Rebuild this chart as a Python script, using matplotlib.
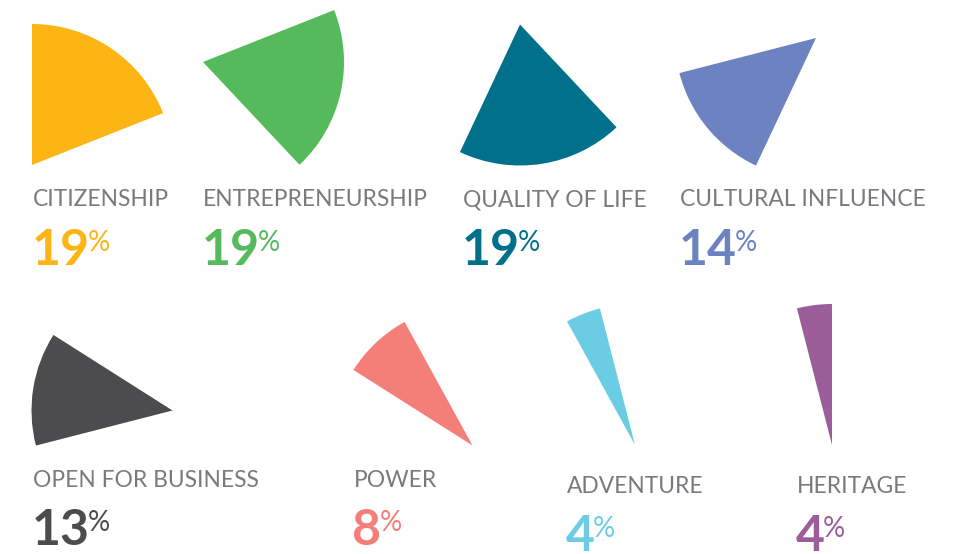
import matplotlib
matplotlib.use('Agg')
import matplotlib.pyplot as plt
from matplotlib.patches import Wedge

# data
categories = ['CITIZENSHIP', 'ENTREPRENEURSHIP', 'QUALITY OF LIFE', 'CULTURAL INFLUENCE',
              'OPEN FOR BUSINESS', 'POWER', 'ADVENTURE', 'HERITAGE']
shares = [19, 19, 19, 14, 13, 8, 4, 4]
colors = ['#FDB515', '#55BA5C', '#01708B', '#6C82C1',
          '#4C4C4E', '#F47E78', '#6BCDE4', '#9C5E9A']

# layout (pixel coords, y down)
centers = [(32, 165), (203, 62), (520, 24.5), (816, 38),
           (172.5, 410.5), (472.5, 445.5), (635, 445), (832, 445)]
radius = 141
text_x = [33, 203, 463, 680, 33, 354, 567, 797]
label_y = [206, 206, 206, 206, 487, 487, 493, 493]
pct_y = [265, 265, 265, 265, 545, 545, 551, 551]

fig = plt.figure(figsize=(9.67, 5.54), dpi=100)
ax = fig.add_axes([0, 0, 1, 1])
ax.set_xlim(0, 967)
ax.set_ylim(554, 0)
ax.set_aspect('equal')
ax.axis('off')

cum = 0.0
for i, (cat, s, c) in enumerate(zip(categories, shares, colors)):
    c0 = cum / 100.0
    cum += s
    c1 = cum / 100.0
    # pie starts at top and runs clockwise; y axis is inverted
    w = Wedge(centers[i], radius, 360 * c0 - 90, 360 * c1 - 90, facecolor=c, edgecolor='none')
    ax.add_patch(w)

    ax.text(text_x[i], label_y[i], cat, fontsize=16.4, family='Lato', weight='normal',
            color='#7a7a7e', ha='left', va='baseline')
    num = ax.text(text_x[i] - 1.5, pct_y[i], str(s), fontsize=36, family='Lato', weight='bold',
                  color=c, ha='left', va='baseline')
    ax.annotate('%', xy=(1, 1), xycoords=num, xytext=(-1.5, -1.5), textcoords='offset points',
                fontsize=20, family='Lato', weight='normal', color=c, ha='left', va='top')

plt.savefig('out.png', dpi=100)
